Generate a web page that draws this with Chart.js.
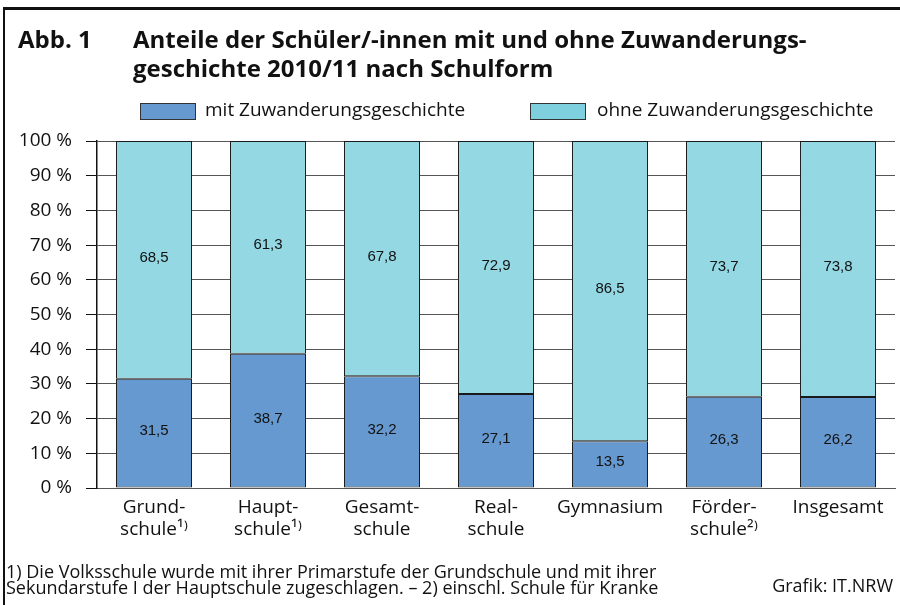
<!DOCTYPE html>
<html>
<head>
<meta charset="utf-8">
<script src="https://cdn.jsdelivr.net/npm/chart.js@4.4.1/dist/chart.umd.min.js"></script>
<style>
  html, body { margin: 0; padding: 0; background: #fff; }
  #wrap { position: relative; width: 900px; height: 605px; overflow: hidden; background: #fff; font-family: "Open Sans", sans-serif; color: #111; }
  #frame { position: absolute; left: 3px; top: 7px; width: 910px; height: 620px; border-top: 3px solid #111; border-left: 2px solid #111; }
  canvas { position: absolute; left: 0; top: 0; }
  .t { position: absolute; white-space: nowrap; }
  #abb { left: 18px; top: 24px; font-size: 24px; font-weight: 700; line-height: 29px; }
  #title { left: 133px; top: 24px; font-size: 24px; font-weight: 700; line-height: 29px; }
  .lbox { position: absolute; width: 54px; height: 15px; border: 1px solid #333; }
  .ltxt { position: absolute; font-size: 19px; line-height: 19px; top: 100px; }
  #foot { left: 6px; top: 564px; font-size: 18px; line-height: 15.5px; }
  #src { right: 7px; top: 578px; font-size: 18px; line-height: 15.5px; }
</style>
</head>
<body>
<div id="wrap">
  <div id="frame"></div>
  <canvas id="c" width="900" height="605"></canvas>
  <div class="t" id="abb">Abb. 1</div>
  <div class="t" id="title">Anteile der Schüler/-innen mit und ohne Zuwanderungs-<br>geschichte 2010/11 nach Schulform</div>
  <div class="lbox" id="lb1" style="left:140px; top:103px;"></div>
  <div class="ltxt" id="lt1" style="left:205px;"></div>
  <div class="lbox" id="lb2" style="left:530px; top:103px;"></div>
  <div class="ltxt" id="lt2" style="left:597px;"></div>
  <div class="t" id="foot">1) Die Volksschule wurde mit ihrer Primarstufe der Grundschule und mit ihrer<br>Sekundarstufe I der Hauptschule zugeschlagen. – 2) einschl. Schule für Kranke</div>
  <div class="t" id="src">Grafik: IT.NRW</div>
</div>
<script>
// ---- data ----
const categories = [
  ["Grund-", "schule¹⁾"],
  ["Haupt-", "schule¹⁾"],
  ["Gesamt-", "schule"],
  ["Real-", "schule"],
  ["Gymnasium"],
  ["Förder-", "schule²⁾"],
  ["Insgesamt"]
];
const seriesNames = ["mit Zuwanderungsgeschichte", "ohne Zuwanderungsgeschichte"];
const mitValues  = [31.5, 38.7, 32.2, 27.1, 13.5, 26.3, 26.2];
const ohneValues = [68.5, 61.3, 67.8, 72.9, 86.5, 73.7, 73.8];
const yTicks = [0, 10, 20, 30, 40, 50, 60, 70, 80, 90, 100];

const colMit = "#6699cf";
const colOhne = "#93d8e3";

document.getElementById("lt1").textContent = seriesNames[0];
document.getElementById("lt2").textContent = seriesNames[1];
document.getElementById("lb1").style.background = colMit;
document.getElementById("lb2").style.background = "#7fd0de";

const valueLabels = {
  id: "valueLabels",
  afterDatasetsDraw(chart) {
    const ctx = chart.ctx;
    ctx.save();
    ctx.font = "15px 'Liberation Sans', Arial, sans-serif";
    ctx.fillStyle = "#111";
    ctx.textAlign = "center";
    ctx.textBaseline = "middle";
    chart.data.datasets.forEach((ds, di) => {
      const meta = chart.getDatasetMeta(di);
      meta.data.forEach((el, i) => {
        const v = ds.data[i];
        const y = (el.y + el.base) / 2;
        ctx.fillText(v.toFixed(1).replace(".", ","), el.x, y - 2);
      });
    });
    ctx.restore();
  }
};

new Chart(document.getElementById("c"), {
  type: "bar",
  data: {
    labels: categories,
    datasets: [
      { label: seriesNames[0], data: mitValues, backgroundColor: colMit, borderColor: "#1a1a1a", borderWidth: 1, borderSkipped: false },
      { label: seriesNames[1], data: ohneValues, backgroundColor: colOhne, borderColor: "#1a1a1a", borderWidth: 1, borderSkipped: false }
    ]
  },
  options: {
    responsive: false,
    animation: false,
    devicePixelRatio: 1,
    layout: { padding: { left: 0, right: 5, top: 141, bottom: 0 } },
    plugins: { legend: { display: false }, tooltip: { enabled: false }, title: { display: false } },
    datasets: { bar: { categoryPercentage: 1.0, barPercentage: 0.667 } },
    scales: {
      x: {
        stacked: true,
        grid: { display: false, drawTicks: false },
        border: { display: true, color: "#555", width: 1 },
        ticks: {
          color: "#111",
          font: { family: "'Open Sans', sans-serif", size: 19, lineHeight: 1.15 },
          padding: 9,
          maxRotation: 0,
          autoSkip: false
        },
        afterFit(scale) { scale.height = 117; }
      },
      y: {
        stacked: true,
        min: 0,
        max: 100,
        afterBuildTicks(scale) { scale.ticks = yTicks.map(v => ({ value: v })); },
        grid: { color: "#555", lineWidth: 1, tickLength: 11, tickColor: "#111", drawTicks: true },
        border: { display: true, color: "#111", width: 1.5 },
        ticks: {
          color: "#111",
          font: { family: "'Open Sans', sans-serif", size: 19 },
          padding: 14,
          callback: v => v + " %"
        },
        afterFit(scale) { scale.width = 97; }
      }
    }
  },
  plugins: [valueLabels]
});
</script>
</body>
</html>
